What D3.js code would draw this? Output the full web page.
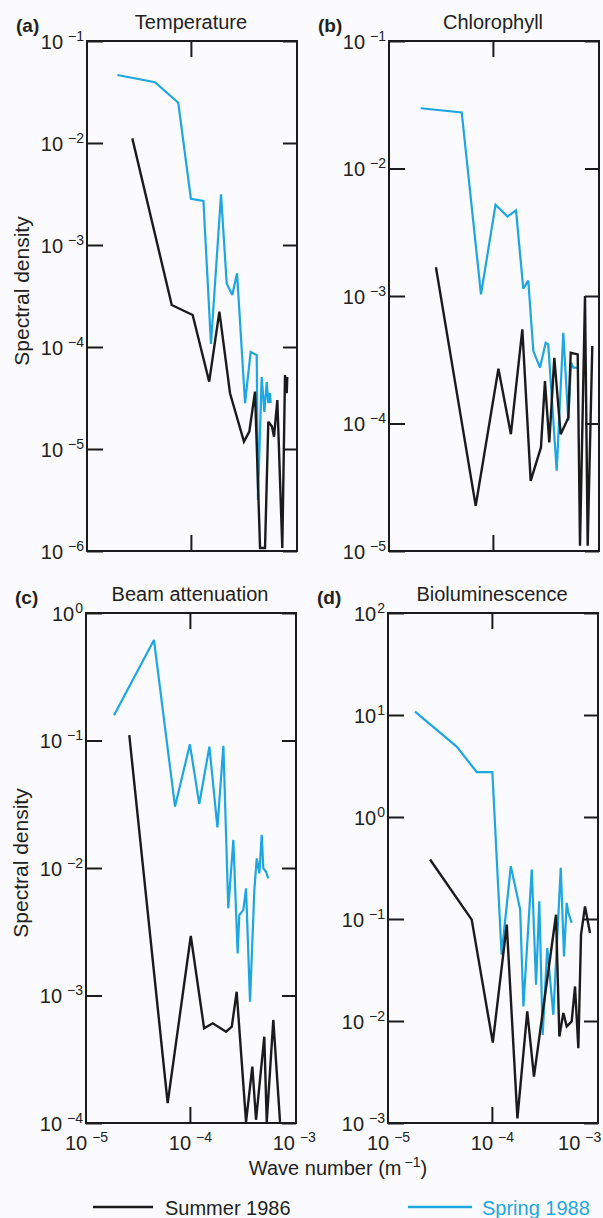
<!DOCTYPE html>
<html>
<head>
<meta charset="utf-8">
<script src="https://cdn.jsdelivr.net/npm/d3@7"></script>
<style>
    html, body { margin: 0; padding: 0; background: #fbfbfd; }
    svg { display: block; font-family: 'Liberation Sans', Arial, Helvetica, sans-serif; }
</style>
</head>
<body>
<div id="chart"></div>
<script>
// Spectral density vs wave number, four panels (log-log)

const titles = ['Temperature', 'Chlorophyll', 'Beam attenuation', 'Bioluminescence'];
const panelTags = ['(a)', '(b)', '(c)', '(d)'];
const seriesNames = ['Summer 1986', 'Spring 1988'];

const xTicks = [1e-5, 1e-4, 1e-3];
const tempTicks = [1e-6, 1e-5, 1e-4, 1e-3, 1e-2, 1e-1];
const chlTicks = [1e-5, 1e-4, 1e-3, 1e-2, 1e-1];
const beamTicks = [1e-4, 1e-3, 1e-2, 1e-1, 1e0];
const bioTicks = [1e-3, 1e-2, 1e-1, 1e0, 1e1, 1e2];

// [wave number m^-1, spectral density]
const tempSummer = [
    [2.73e-5, 0.0111], [6.54e-5, 2.58e-4], [1.04e-4, 2.06e-4], [1.50e-4, 4.57e-5], [1.88e-4, 2.22e-4],
    [2.38e-4, 3.52e-5], [3.24e-4, 1.18e-5], [3.65e-4, 1.48e-5], [4.14e-4, 3.65e-5], [4.63e-4, 1.07e-6],
    [5.17e-4, 1.07e-6], [5.56e-4, 1.85e-5], [6.03e-4, 1.66e-5], [6.31e-4, 1.32e-5], [6.79e-4, 3.02e-5],
    [7.58e-4, 1.07e-6], [8.05e-4, 5.31e-5], [8.36e-4, 3.52e-5], [8.47e-4, 5.08e-5]
];
const tempSpring = [
    [1.96e-5, 0.0464], [4.51e-5, 0.0394], [7.56e-5, 0.0248], [1.00e-4, 2.83e-3], [1.32e-4, 2.70e-3],
    [1.56e-4, 1.07e-4], [1.95e-4, 3.14e-3], [2.21e-4, 4.2e-4], [2.50e-4, 3.24e-4], [2.78e-4, 5.28e-4],
    [3.32e-4, 2.82e-5], [3.76e-4, 8.93e-5], [4.30e-4, 8.35e-5], [4.42e-4, 3.16e-6], [4.80e-4, 5.08e-5],
    [5.09e-4, 2.31e-5], [5.37e-4, 4.54e-5], [5.56e-4, 2.82e-5], [5.77e-4, 3.54e-5], [5.86e-4, 2.82e-5]
];
const chlSummer = [
    [2.83e-5, 1.68e-3], [6.83e-5, 2.26e-5], [1.13e-4, 2.69e-4], [1.49e-4, 8.24e-5], [1.92e-4, 5.47e-4],
    [2.31e-4, 3.55e-5], [2.90e-4, 6.49e-5], [3.17e-4, 2.15e-4], [3.49e-4, 7.1e-5], [3.90e-4, 3.28e-4],
    [4.49e-4, 8.24e-5], [5.32e-4, 1.11e-4], [5.61e-4, 3.59e-4], [6.55e-4, 3.48e-4], [6.89e-4, 1.1e-5],
    [7.70e-4, 1.0e-3], [8.17e-4, 1.1e-5], [9.05e-4, 4.05e-4]
];
const chlSpring = [
    [2.02e-5, 0.0297], [5.01e-5, 0.0275], [7.68e-5, 1.03e-3], [1.06e-4, 5.2e-3], [1.38e-4, 4.2e-3],
    [1.67e-4, 4.7e-3], [1.96e-4, 1.14e-3], [2.19e-4, 1.32e-3], [2.45e-4, 3.7e-4], [2.84e-4, 2.74e-4],
    [3.22e-4, 4.3e-4], [3.41e-4, 4.17e-4], [4.11e-4, 4.26e-5], [4.76e-4, 5.15e-4], [5.32e-4, 1.05e-4],
    [5.65e-4, 3.0e-4], [5.94e-4, 2.74e-4], [6.64e-4, 2.74e-4]
];
const beamSummer = [
    [2.61e-5, 0.110], [6.11e-5, 1.43e-4], [1.02e-4, 2.93e-3], [1.37e-4, 5.53e-4], [1.66e-4, 6.05e-4],
    [2.23e-4, 5.2e-4], [2.53e-4, 5.69e-4], [2.82e-4, 1.07e-3], [3.47e-4, 1.02e-4], [3.99e-4, 2.77e-4],
    [4.33e-4, 1.06e-4], [5.20e-4, 4.75e-4], [5.49e-4, 1.02e-4], [6.35e-4, 6.43e-4], [7.37e-4, 1.02e-4]
];
const beamSpring = [
    [1.86e-5, 0.158], [4.51e-5, 0.614], [7.19e-5, 0.0303], [1.00e-4, 0.0933], [1.23e-4, 0.0318],
    [1.54e-4, 0.0894], [1.84e-4, 0.0208], [2.10e-4, 0.091], [2.34e-4, 4.83e-3], [2.62e-4, 0.0166],
    [2.88e-4, 2.14e-3], [2.99e-4, 4.28e-3], [3.27e-4, 4.69e-3], [3.47e-4, 6.92e-3], [3.79e-4, 8.94e-4],
    [4.17e-4, 6.72e-3], [4.40e-4, 0.0119], [4.66e-4, 9.08e-3], [4.91e-4, 0.0182], [5.09e-4, 9.95e-3],
    [5.40e-4, 9.35e-3], [5.68e-4, 8.3e-3]
];
const bioSummer = [
    [2.54e-5, 0.383], [6.39e-5, 0.0986], [1.02e-4, 6.15e-3], [1.39e-4, 0.088], [1.76e-4, 1.11e-3],
    [2.19e-4, 0.0124], [2.54e-4, 2.85e-3], [4.14e-4, 0.110], [4.46e-4, 7.05e-3], [4.87e-4, 0.012],
    [5.25e-4, 8.84e-3], [5.86e-4, 9.9e-3], [6.31e-4, 0.0218], [6.79e-4, 5.42e-3], [7.21e-4, 0.0703],
    [7.87e-4, 0.133], [8.80e-4, 0.073]
];
const bioSpring = [
    [1.82e-5, 10.8], [4.58e-5, 4.9], [7.14e-5, 2.76], [1.01e-4, 2.76], [1.24e-4, 0.0447],
    [1.52e-4, 0.33], [1.87e-4, 0.124], [2.01e-4, 0.0139], [2.42e-4, 0.305], [2.66e-4, 0.0227],
    [2.86e-4, 0.149], [3.08e-4, 7.3e-3], [3.41e-4, 0.052], [3.90e-4, 0.0115], [4.60e-4, 0.318],
    [4.94e-4, 0.043], [5.25e-4, 0.144], [5.44e-4, 0.115], [5.86e-4, 0.0916]
];

const BLACK = '#1b1b1b';
const BLUE = '#1ea6e0';
const TEXT = '#222';

const W = 603, H = 1218;
const plotW = 210, plotH = 510;
const panels = [
    { tag: panelTags[0], title: titles[0], ticks: tempTicks, summer: tempSummer, spring: tempSpring, left: 87, top: 41, yLabel: true, xLabels: false },
    { tag: panelTags[1], title: titles[1], ticks: chlTicks, summer: chlSummer, spring: chlSpring, left: 389, top: 41, yLabel: false, xLabels: false },
    { tag: panelTags[2], title: titles[2], ticks: beamTicks, summer: beamSummer, spring: beamSpring, left: 86, top: 613, yLabel: true, xLabels: true },
    { tag: panelTags[3], title: titles[3], ticks: bioTicks, summer: bioSummer, spring: bioSpring, left: 388, top: 613, yLabel: false, xLabels: true }
];

const svg = d3.select('#chart').append('svg').attr('width', W).attr('height', H);
svg.append('rect').attr('width', W).attr('height', H).attr('fill', '#fbfbfd');

// writes "10" with a raised exponent into a text node
function powerLabel(sel, v, big, small) {
    const e = Math.round(Math.log10(v));
    sel.text(null);
    sel.append('tspan').style('font-size', big + 'px').text('10');
    sel.append('tspan')
        .attr('dx', e < 0 ? 5 : 1)
        .attr('dy', -8)
        .style('font-size', small + 'px')
        .text(e < 0 ? '\u2212' + Math.abs(e) : String(e));
}

function renderPanel(p) {
    const g = svg.append('g').attr('transform', `translate(${p.left},${p.top})`);
    const x = d3.scaleLog().domain([1e-5, 1.05e-3]).range([0, plotW]);
    const y = d3.scaleLog().domain([p.ticks[0], p.ticks[p.ticks.length - 1]]).range([plotH, 0]);

    // inward ticks, left with labels
    const yAxisL = g.append('g').attr('class', 'y-axis')
        .call(d3.axisLeft(y).tickValues(p.ticks).tickSizeInner(-16).tickSizeOuter(0).tickPadding(3));
    yAxisL.select('.domain').remove();
    yAxisL.selectAll('.tick line').attr('stroke', BLACK).attr('stroke-width', 2);
    yAxisL.selectAll('.tick text')
        .attr('fill', TEXT).attr('dy', 7)
        .each(function (d) { powerLabel(d3.select(this), d, 20, 14); });

    const yAxisR = g.append('g').attr('transform', `translate(${plotW},0)`)
        .call(d3.axisRight(y).tickValues(p.ticks).tickSizeInner(-14).tickSizeOuter(0).tickFormat(''));
    yAxisR.select('.domain').remove();
    yAxisR.selectAll('.tick line').attr('stroke', BLACK).attr('stroke-width', 2);

    const xTop = g.append('g')
        .call(d3.axisTop(x).tickValues([1e-4]).tickSizeInner(-16).tickSizeOuter(0).tickFormat(''));
    xTop.select('.domain').remove();
    xTop.selectAll('.tick line').attr('stroke', BLACK).attr('stroke-width', 2);

    const xBot = g.append('g').attr('transform', `translate(0,${plotH})`)
        .call(d3.axisBottom(x).tickValues([1e-4]).tickSizeInner(-16).tickSizeOuter(0).tickFormat(''));
    xBot.select('.domain').remove();
    xBot.selectAll('.tick line').attr('stroke', BLACK).attr('stroke-width', 2);

    if (p.xLabels) {
        const xLab = g.append('g').attr('transform', `translate(0,${plotH})`)
            .call(d3.axisBottom(x).tickValues(xTicks).tickSize(0).tickPadding(10));
        xLab.select('.domain').remove();
        xLab.selectAll('.tick text')
            .attr('fill', TEXT).attr('dy', 17)
            .each(function (d) {
                powerLabel(d3.select(this), d, 20, 14);
                // keep the last label inside the page, as in the print
                const b = this.getBBox();
                const over = p.left + x(d) + b.x + b.width - (W - 2);
                if (over > 0) d3.select(this).attr('x', -over);
            });
    }

    const line = d3.line().x(d => x(d[0])).y(d => y(d[1]));
    g.append('path').datum(p.spring)
        .attr('d', line).attr('fill', 'none').attr('stroke', BLUE)
        .attr('stroke-width', 2.2).attr('stroke-linejoin', 'miter').attr('stroke-miterlimit', 3);
    g.append('path').datum(p.summer)
        .attr('d', line).attr('fill', 'none').attr('stroke', BLACK)
        .attr('stroke-width', 2.4).attr('stroke-linejoin', 'miter').attr('stroke-miterlimit', 3);

    g.append('rect').attr('width', plotW).attr('height', plotH)
        .attr('fill', 'none').attr('stroke', BLACK).attr('stroke-width', 2);

    svg.append('text').attr('x', p.left - 71).attr('y', p.top - 9)
        .style('font-size', '19px').style('font-weight', 'bold').attr('fill', TEXT).text(p.tag);
    svg.append('text').attr('x', p.left + plotW / 2 - 1).attr('y', p.top - 12)
        .attr('text-anchor', 'middle').style('font-size', '20px').attr('fill', TEXT).text(p.title);

    if (p.yLabel) {
        svg.append('text')
            .attr('transform', `translate(${p.left - 58},${p.top + 250}) rotate(-90)`)
            .attr('text-anchor', 'middle').style('font-size', '21px').attr('fill', TEXT)
            .text('Spectral density');
    }
}

panels.forEach(renderPanel);

// shared x axis title
const xt = svg.append('text').attr('x', 338).attr('y', 1175)
    .attr('text-anchor', 'middle').attr('fill', TEXT).style('font-size', '20px');
xt.append('tspan').text('Wave number (m');
xt.append('tspan').attr('dx', 3).attr('dy', -8).style('font-size', '14px').text('\u22121');
xt.append('tspan').attr('dy', 8).text(')');

// legend
const legend = [
    { name: seriesNames[0], color: BLACK, x1: 93, x2: 153, tx: 165, tc: TEXT },
    { name: seriesNames[1], color: BLUE, x1: 408, x2: 472, tx: 482, tc: BLUE }
];
const lg = svg.selectAll('g.legend-item').data(legend).enter().append('g').attr('class', 'legend-item');
lg.append('line')
    .attr('x1', d => d.x1).attr('x2', d => d.x2).attr('y1', 1207).attr('y2', 1207)
    .attr('stroke', d => d.color).attr('stroke-width', 2.4);
lg.append('text')
    .attr('x', d => d.tx).attr('y', 1215)
    .style('font-size', '20px').attr('fill', d => d.tc).text(d => d.name);
</script>
</body>
</html>
